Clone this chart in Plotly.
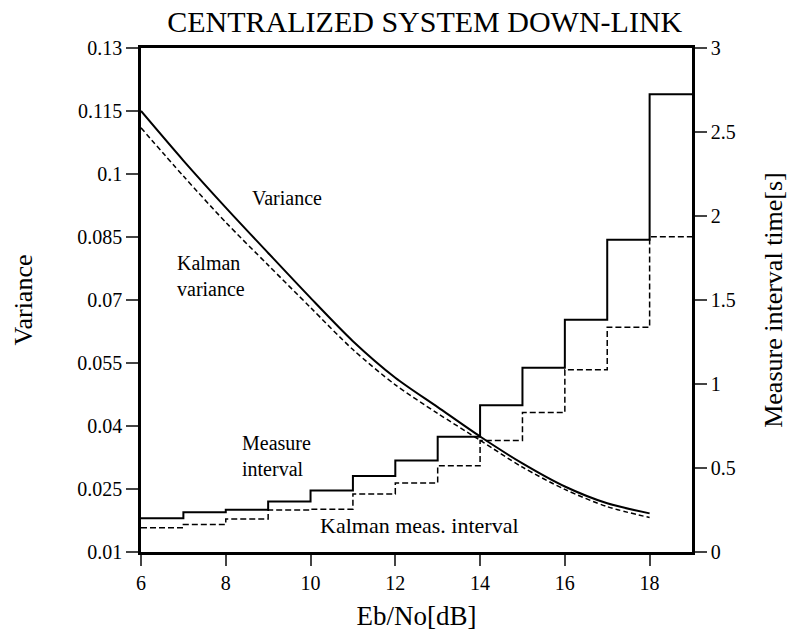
import plotly.graph_objects as go

# ---- data ----
eb_no = [6, 7, 8, 9, 10, 11, 12, 13, 14, 15, 16, 17, 18]
variance = [0.115, 0.1032, 0.0920, 0.0812, 0.0705, 0.0602, 0.0515, 0.0445, 0.0375, 0.0311, 0.0256, 0.0216, 0.0192]
kalman_variance = [0.111, 0.0995, 0.0885, 0.0783, 0.0682, 0.0582, 0.0498, 0.0430, 0.0366, 0.0302, 0.0249, 0.0208, 0.0182]

step_edges = [6, 7, 8, 9, 10, 11, 12, 13, 14, 15, 16, 17, 18, 19]
measure_interval = [0.201, 0.236, 0.252, 0.300, 0.366, 0.452, 0.545, 0.686, 0.874, 1.097, 1.382, 1.858, 2.725]
kalman_interval = [0.144, 0.163, 0.196, 0.250, 0.255, 0.345, 0.411, 0.514, 0.663, 0.830, 1.085, 1.338, 1.877]

left_ticks = [0.01, 0.025, 0.04, 0.055, 0.07, 0.085, 0.1, 0.115, 0.13]
left_tick_text = ["0.01", "0.025", "0.04", "0.055", "0.07", "0.085", "0.1", "0.115", "0.13"]
right_ticks = [0, 0.5, 1, 1.5, 2, 2.5, 3]
right_tick_text = ["0", "0.5", "1", "1.5", "2", "2.5", "3"]
x_ticks = [6, 8, 10, 12, 14, 16, 18]

FONT = "Liberation Serif, Times New Roman, serif"

fig = go.Figure()

fig.add_trace(go.Scatter(x=eb_no, y=variance, mode="lines", name="Variance",
                         line=dict(color="black", width=2, shape="spline", smoothing=0.8),
                         yaxis="y"))
fig.add_trace(go.Scatter(x=eb_no, y=kalman_variance, mode="lines", name="Kalman variance",
                         line=dict(color="black", width=1.5, dash="5px,3px", shape="spline",
                                   smoothing=0.8),
                         yaxis="y"))
fig.add_trace(go.Scatter(x=step_edges, y=measure_interval + [measure_interval[-1]], mode="lines",
                         name="Measure interval", line=dict(color="black", width=2, shape="hv"),
                         yaxis="y2"))
fig.add_trace(go.Scatter(x=step_edges, y=kalman_interval + [kalman_interval[-1]], mode="lines",
                         name="Kalman meas. interval",
                         line=dict(color="black", width=1.5, shape="hv", dash="6px,3px"),
                         yaxis="y2"))

ann_font = dict(family=FONT, size=20, color="black")
annotations = [
    dict(text="Variance", x=0.265, y=0.702, xref="paper", yref="paper",
         showarrow=False, font=ann_font, xanchor="center", yanchor="middle"),
    dict(text="Kalman<br>variance", x=0.062, y=0.547, xref="paper", yref="paper",
         showarrow=False, font=ann_font, xanchor="left", yanchor="middle", align="left"),
    dict(text="Measure<br>interval", x=0.180, y=0.19, xref="paper", yref="paper",
         showarrow=False, font=ann_font, xanchor="left", yanchor="middle", align="left"),
    dict(text="Kalman meas. interval", x=0.322, y=0.053, xref="paper", yref="paper",
         showarrow=False, font=dict(family=FONT, size=22, color="black"),
         xanchor="left", yanchor="middle"),
]

fig.update_layout(
    width=801, height=644,
    margin=dict(l=141, r=109, t=48, b=92),
    paper_bgcolor="white", plot_bgcolor="white",
    showlegend=False,
    font=dict(family=FONT, color="black"),
    title=dict(text="CENTRALIZED SYSTEM DOWN-LINK", x=0.515, xref="paper", xanchor="center",
               y=0.966, yanchor="middle", font=dict(family=FONT, size=30, color="black")),
    xaxis=dict(range=[6, 19], tickvals=x_ticks, ticks="outside", ticklen=11, tickwidth=2,
               showline=True, linewidth=2.5, linecolor="black", mirror=True,
               showgrid=False, zeroline=False,
               tickfont=dict(family=FONT, size=20, color="black"),
               title=dict(text="Eb/No[dB]", font=dict(family=FONT, size=27, color="black"),
                          standoff=14)),
    yaxis=dict(range=[0.01, 0.13], tickvals=left_ticks, ticktext=left_tick_text,
               ticks="outside", ticklen=12, tickwidth=2,
               showline=True, linewidth=2.5, linecolor="black",
               showgrid=False, zeroline=False,
               tickfont=dict(family=FONT, size=20, color="black"),
               title=dict(text="Variance", font=dict(family=FONT, size=26, color="black"),
                          standoff=38)),
    yaxis2=dict(range=[0, 3], tickvals=right_ticks, ticktext=right_tick_text,
                overlaying="y", side="right",
                ticks="outside", ticklen=12, tickwidth=2,
                showline=True, linewidth=2.5, linecolor="black",
                showgrid=False, zeroline=False,
                tickfont=dict(family=FONT, size=20, color="black"),
                title=dict(text="Measure interval time[s]",
                           font=dict(family=FONT, size=26, color="black"), standoff=30)),
    annotations=annotations,
)

fig.write_html("out.html")
